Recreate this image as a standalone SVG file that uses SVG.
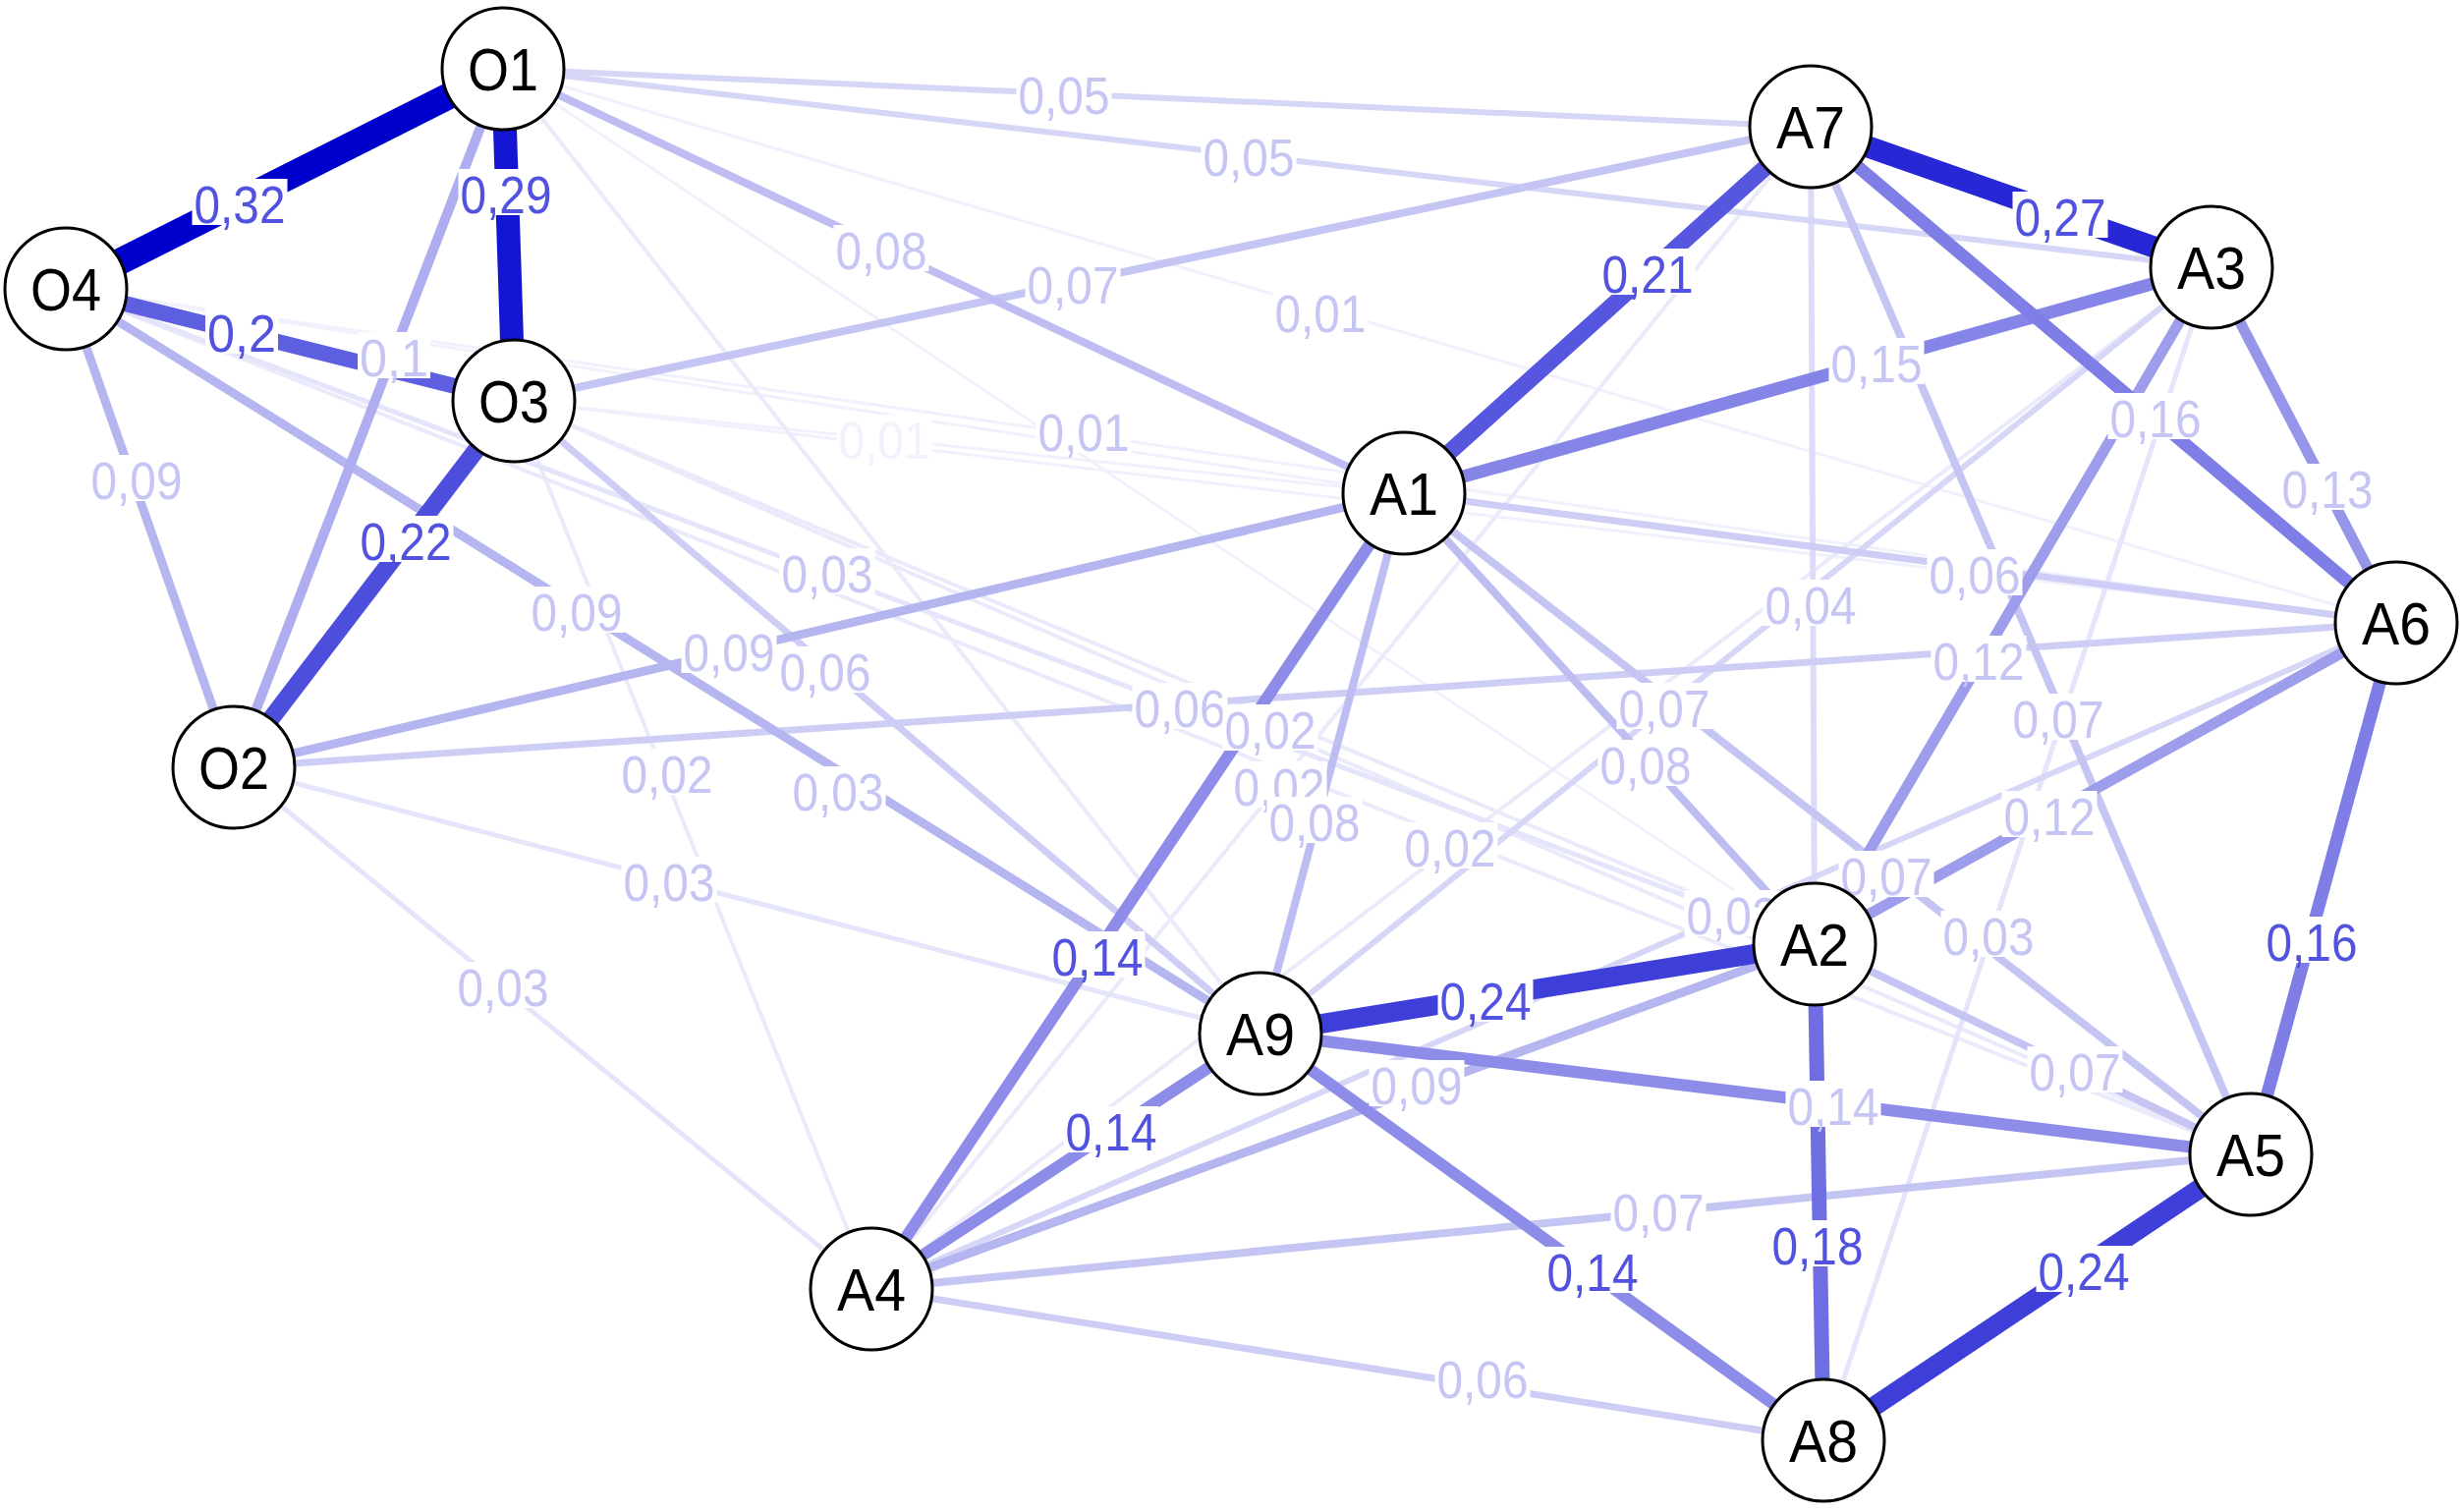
<svg xmlns="http://www.w3.org/2000/svg" width="2508" height="1539" viewBox="0 0 2508 1539">
<style>
line{stroke-linecap:butt}
.w01{stroke:#f1f1fd;stroke-width:3}
.w02{stroke:#eaeafb;stroke-width:4}
.w03{stroke:#e4e4fa;stroke-width:5}
.w04{stroke:#dcdcf8;stroke-width:6}
.w05{stroke:#d6d6f7;stroke-width:6}
.w06{stroke:#cdcdf5;stroke-width:7}
.w07{stroke:#c5c5f4;stroke-width:8}
.w08{stroke:#bdbdf2;stroke-width:8}
.w09{stroke:#b5b5f0;stroke-width:9}
.w10{stroke:#adadef;stroke-width:10}
.w12{stroke:#9d9dec;stroke-width:11}
.w13{stroke:#9595ea;stroke-width:11}
.w14{stroke:#8d8de9;stroke-width:12}
.w15{stroke:#8585e7;stroke-width:13}
.w16{stroke:#7e7ee6;stroke-width:13}
.w18{stroke:#6e6ee2;stroke-width:15}
.w20{stroke:#5e5ee0;stroke-width:16}
.w21{stroke:#5656de;stroke-width:17}
.w22{stroke:#4e4edc;stroke-width:18}
.w24{stroke:#3e3ed9;stroke-width:20}
.w27{stroke:#2727d5;stroke-width:22}
.w29{stroke:#1414d3;stroke-width:24}
.w32{stroke:#0000cc;stroke-width:27}
.lb rect{fill:#ffffff}
.lb text{font-family:"Liberation Sans",Arial,sans-serif;font-size:53px;text-anchor:middle}
.d text{fill:#5252e0}
.l text{fill:#c6c6f4}
.f text{fill:#f2f2fd}
.node circle{fill:#ffffff;stroke:#000000;stroke-width:3}
.node text{font-family:"Liberation Sans",Arial,sans-serif;font-size:62px;text-anchor:middle;fill:#000000}
</style>
<g id="connectors">
<line class="w01" x1="512" y1="70" x2="2439" y2="634"/>
<line class="w01" x1="67" y1="294" x2="2439" y2="634"/>
<line class="w01" x1="523" y1="408" x2="1429" y2="502"/>
<line class="w01" x1="67" y1="294" x2="1429" y2="502"/>
<line class="w01" x1="523" y1="408" x2="2439" y2="634"/>
<line class="w01" x1="512" y1="70" x2="1847" y2="961"/>
<line class="w02" x1="523" y1="408" x2="887" y2="1312"/>
<line class="w02" x1="2251" y1="272" x2="887" y2="1312"/>
<line class="w02" x1="523" y1="408" x2="2291" y2="1175"/>
<line class="w02" x1="1843" y1="129" x2="887" y2="1312"/>
<line class="w02" x1="67" y1="294" x2="2291" y2="1175"/>
<line class="w02" x1="523" y1="408" x2="1847" y2="961"/>
<line class="w02" x1="512" y1="70" x2="1283" y2="1052"/>
<line class="w03" x1="67" y1="294" x2="1847" y2="961"/>
<line class="w03" x1="238" y1="781" x2="1283" y2="1052"/>
<line class="w03" x1="238" y1="781" x2="887" y2="1312"/>
<line class="w03" x1="2251" y1="272" x2="1856" y2="1466"/>
<line class="w04" x1="1843" y1="129" x2="1847" y2="961"/>
<line class="w05" x1="512" y1="70" x2="1843" y2="129"/>
<line class="w05" x1="512" y1="70" x2="2251" y2="272"/>
<line class="w05" x1="2251" y1="272" x2="1283" y2="1052"/>
<line class="w05" x1="2439" y1="634" x2="887" y2="1312"/>
<line class="w06" x1="523" y1="408" x2="1283" y2="1052"/>
<line class="w06" x1="1429" y1="502" x2="2439" y2="634"/>
<line class="w06" x1="238" y1="781" x2="2439" y2="634"/>
<line class="w06" x1="887" y1="1312" x2="1856" y2="1466"/>
<line class="w07" x1="523" y1="408" x2="1843" y2="129"/>
<line class="w07" x1="1429" y1="502" x2="2291" y2="1175"/>
<line class="w07" x1="1843" y1="129" x2="2291" y2="1175"/>
<line class="w07" x1="887" y1="1312" x2="2291" y2="1175"/>
<line class="w07" x1="1847" y1="961" x2="2291" y2="1175"/>
<line class="w08" x1="512" y1="70" x2="1429" y2="502"/>
<line class="w08" x1="1429" y1="502" x2="1283" y2="1052"/>
<line class="w08" x1="1429" y1="502" x2="1847" y2="961"/>
<line class="w09" x1="67" y1="294" x2="238" y2="781"/>
<line class="w09" x1="67" y1="294" x2="1283" y2="1052"/>
<line class="w09" x1="238" y1="781" x2="1429" y2="502"/>
<line class="w09" x1="887" y1="1312" x2="1847" y2="961"/>
<line class="w10" x1="512" y1="70" x2="238" y2="781"/>
<line class="w12" x1="2251" y1="272" x2="1847" y2="961"/>
<line class="w12" x1="2439" y1="634" x2="1847" y2="961"/>
<line class="w13" x1="2251" y1="272" x2="2439" y2="634"/>
<line class="w14" x1="1429" y1="502" x2="887" y2="1312"/>
<line class="w14" x1="1283" y1="1052" x2="887" y2="1312"/>
<line class="w14" x1="1283" y1="1052" x2="2291" y2="1175"/>
<line class="w14" x1="1283" y1="1052" x2="1856" y2="1466"/>
<line class="w15" x1="1429" y1="502" x2="2251" y2="272"/>
<line class="w16" x1="1843" y1="129" x2="2439" y2="634"/>
<line class="w16" x1="2439" y1="634" x2="2291" y2="1175"/>
<line class="w18" x1="1847" y1="961" x2="1856" y2="1466"/>
<line class="w20" x1="67" y1="294" x2="523" y2="408"/>
<line class="w21" x1="1429" y1="502" x2="1843" y2="129"/>
<line class="w22" x1="523" y1="408" x2="238" y2="781"/>
<line class="w24" x1="1283" y1="1052" x2="1847" y2="961"/>
<line class="w24" x1="2291" y1="1175" x2="1856" y2="1466"/>
<line class="w27" x1="1843" y1="129" x2="2251" y2="272"/>
<line class="w29" x1="512" y1="70" x2="523" y2="408"/>
<line class="w32" x1="512" y1="70" x2="67" y2="294"/>
</g>
<g id="edge-labels">
<g class="lb f" transform="translate(900,447)"><rect x="-48.5" y="-25" width="97" height="47"/><text y="20" textLength="93" lengthAdjust="spacingAndGlyphs">0,01</text></g>
<g class="lb l" transform="translate(401,363)"><rect x="-37" y="-25" width="74" height="47"/><text y="20" textLength="70" lengthAdjust="spacingAndGlyphs">0,1</text></g>
<g class="lb l" transform="translate(139,488)"><rect x="-48.5" y="-25" width="97" height="47"/><text y="20" textLength="93" lengthAdjust="spacingAndGlyphs">0,09</text></g>
<g class="lb l" transform="translate(1083,96)"><rect x="-48.5" y="-25" width="97" height="47"/><text y="20" textLength="93" lengthAdjust="spacingAndGlyphs">0,05</text></g>
<g class="lb l" transform="translate(1271,159)"><rect x="-48.5" y="-25" width="97" height="47"/><text y="20" textLength="93" lengthAdjust="spacingAndGlyphs">0,05</text></g>
<g class="lb l" transform="translate(897,254)"><rect x="-48.5" y="-25" width="97" height="47"/><text y="20" textLength="93" lengthAdjust="spacingAndGlyphs">0,08</text></g>
<g class="lb l" transform="translate(1092,289)"><rect x="-48.5" y="-25" width="97" height="47"/><text y="20" textLength="93" lengthAdjust="spacingAndGlyphs">0,07</text></g>
<g class="lb l" transform="translate(1344,318)"><rect x="-48.5" y="-25" width="97" height="47"/><text y="20" textLength="93" lengthAdjust="spacingAndGlyphs">0,01</text></g>
<g class="lb l" transform="translate(1103,439)"><rect x="-48.5" y="-25" width="97" height="47"/><text y="20" textLength="93" lengthAdjust="spacingAndGlyphs">0,01</text></g>
<g class="lb l" transform="translate(1910,369)"><rect x="-48.5" y="-25" width="97" height="47"/><text y="20" textLength="93" lengthAdjust="spacingAndGlyphs">0,15</text></g>
<g class="lb l" transform="translate(2194,425)"><rect x="-48.5" y="-25" width="97" height="47"/><text y="20" textLength="93" lengthAdjust="spacingAndGlyphs">0,16</text></g>
<g class="lb l" transform="translate(2369,497)"><rect x="-48.5" y="-25" width="97" height="47"/><text y="20" textLength="93" lengthAdjust="spacingAndGlyphs">0,13</text></g>
<g class="lb l" transform="translate(2010,584)"><rect x="-48.5" y="-25" width="97" height="47"/><text y="20" textLength="93" lengthAdjust="spacingAndGlyphs">0,06</text></g>
<g class="lb l" transform="translate(1843,615)"><rect x="-48.5" y="-25" width="97" height="47"/><text y="20" textLength="93" lengthAdjust="spacingAndGlyphs">0,04</text></g>
<g class="lb l" transform="translate(2014,672)"><rect x="-48.5" y="-25" width="97" height="47"/><text y="20" textLength="93" lengthAdjust="spacingAndGlyphs">0,12</text></g>
<g class="lb l" transform="translate(1694,720)"><rect x="-48.5" y="-25" width="97" height="47"/><text y="20" textLength="93" lengthAdjust="spacingAndGlyphs">0,07</text></g>
<g class="lb l" transform="translate(1675,778)"><rect x="-48.5" y="-25" width="97" height="47"/><text y="20" textLength="93" lengthAdjust="spacingAndGlyphs">0,08</text></g>
<g class="lb l" transform="translate(2095,731)"><rect x="-48.5" y="-25" width="97" height="47"/><text y="20" textLength="93" lengthAdjust="spacingAndGlyphs">0,07</text></g>
<g class="lb l" transform="translate(2086,830)"><rect x="-48.5" y="-25" width="97" height="47"/><text y="20" textLength="93" lengthAdjust="spacingAndGlyphs">0,12</text></g>
<g class="lb l" transform="translate(1920,891)"><rect x="-48.5" y="-25" width="97" height="47"/><text y="20" textLength="93" lengthAdjust="spacingAndGlyphs">0,07</text></g>
<g class="lb l" transform="translate(2024,952)"><rect x="-48.5" y="-25" width="97" height="47"/><text y="20" textLength="93" lengthAdjust="spacingAndGlyphs">0,03</text></g>
<g class="lb l" transform="translate(1763,931)"><rect x="-48.5" y="-25" width="97" height="47"/><text y="20" textLength="93" lengthAdjust="spacingAndGlyphs">0,02</text></g>
<g class="lb l" transform="translate(2112,1090)"><rect x="-48.5" y="-25" width="97" height="47"/><text y="20" textLength="93" lengthAdjust="spacingAndGlyphs">0,07</text></g>
<g class="lb l" transform="translate(1866,1125)"><rect x="-48.5" y="-25" width="97" height="47"/><text y="20" textLength="93" lengthAdjust="spacingAndGlyphs">0,14</text></g>
<g class="lb l" transform="translate(1688,1233)"><rect x="-48.5" y="-25" width="97" height="47"/><text y="20" textLength="93" lengthAdjust="spacingAndGlyphs">0,07</text></g>
<g class="lb l" transform="translate(587,622)"><rect x="-48.5" y="-25" width="97" height="47"/><text y="20" textLength="93" lengthAdjust="spacingAndGlyphs">0,09</text></g>
<g class="lb l" transform="translate(742,663)"><rect x="-48.5" y="-25" width="97" height="47"/><text y="20" textLength="93" lengthAdjust="spacingAndGlyphs">0,09</text></g>
<g class="lb l" transform="translate(840,683)"><rect x="-48.5" y="-25" width="97" height="47"/><text y="20" textLength="93" lengthAdjust="spacingAndGlyphs">0,06</text></g>
<g class="lb l" transform="translate(842,583)"><rect x="-48.5" y="-25" width="97" height="47"/><text y="20" textLength="93" lengthAdjust="spacingAndGlyphs">0,03</text></g>
<g class="lb l" transform="translate(679,787)"><rect x="-48.5" y="-25" width="97" height="47"/><text y="20" textLength="93" lengthAdjust="spacingAndGlyphs">0,02</text></g>
<g class="lb l" transform="translate(853,805)"><rect x="-48.5" y="-25" width="97" height="47"/><text y="20" textLength="93" lengthAdjust="spacingAndGlyphs">0,03</text></g>
<g class="lb l" transform="translate(681,897)"><rect x="-48.5" y="-25" width="97" height="47"/><text y="20" textLength="93" lengthAdjust="spacingAndGlyphs">0,03</text></g>
<g class="lb l" transform="translate(512,1004)"><rect x="-48.5" y="-25" width="97" height="47"/><text y="20" textLength="93" lengthAdjust="spacingAndGlyphs">0,03</text></g>
<g class="lb l" transform="translate(1201,720)"><rect x="-48.5" y="-25" width="97" height="47"/><text y="20" textLength="93" lengthAdjust="spacingAndGlyphs">0,06</text></g>
<g class="lb l" transform="translate(1293,742)"><rect x="-48.5" y="-25" width="97" height="47"/><text y="20" textLength="93" lengthAdjust="spacingAndGlyphs">0,02</text></g>
<g class="lb l" transform="translate(1302,800)"><rect x="-48.5" y="-25" width="97" height="47"/><text y="20" textLength="93" lengthAdjust="spacingAndGlyphs">0,02</text></g>
<g class="lb l" transform="translate(1338,836)"><rect x="-48.5" y="-25" width="97" height="47"/><text y="20" textLength="93" lengthAdjust="spacingAndGlyphs">0,08</text></g>
<g class="lb l" transform="translate(1476,862)"><rect x="-48.5" y="-25" width="97" height="47"/><text y="20" textLength="93" lengthAdjust="spacingAndGlyphs">0,02</text></g>
<g class="lb l" transform="translate(1442,1104)"><rect x="-48.5" y="-25" width="97" height="47"/><text y="20" textLength="93" lengthAdjust="spacingAndGlyphs">0,09</text></g>
<g class="lb l" transform="translate(1509,1403)"><rect x="-48.5" y="-25" width="97" height="47"/><text y="20" textLength="93" lengthAdjust="spacingAndGlyphs">0,06</text></g>
<g class="lb d" transform="translate(244,207)"><rect x="-48.5" y="-25" width="97" height="47"/><text y="20" textLength="93" lengthAdjust="spacingAndGlyphs">0,32</text></g>
<g class="lb d" transform="translate(515,197)"><rect x="-48.5" y="-25" width="97" height="47"/><text y="20" textLength="93" lengthAdjust="spacingAndGlyphs">0,29</text></g>
<g class="lb d" transform="translate(246,338)"><rect x="-37" y="-25" width="74" height="47"/><text y="20" textLength="70" lengthAdjust="spacingAndGlyphs">0,2</text></g>
<g class="lb d" transform="translate(413,550)"><rect x="-48.5" y="-25" width="97" height="47"/><text y="20" textLength="93" lengthAdjust="spacingAndGlyphs">0,22</text></g>
<g class="lb d" transform="translate(1677,278)"><rect x="-48.5" y="-25" width="97" height="47"/><text y="20" textLength="93" lengthAdjust="spacingAndGlyphs">0,21</text></g>
<g class="lb d" transform="translate(2097,220)"><rect x="-48.5" y="-25" width="97" height="47"/><text y="20" textLength="93" lengthAdjust="spacingAndGlyphs">0,27</text></g>
<g class="lb d" transform="translate(1117,973)"><rect x="-48.5" y="-25" width="97" height="47"/><text y="20" textLength="93" lengthAdjust="spacingAndGlyphs">0,14</text></g>
<g class="lb d" transform="translate(1512,1018)"><rect x="-48.5" y="-25" width="97" height="47"/><text y="20" textLength="93" lengthAdjust="spacingAndGlyphs">0,24</text></g>
<g class="lb d" transform="translate(1131,1151)"><rect x="-48.5" y="-25" width="97" height="47"/><text y="20" textLength="93" lengthAdjust="spacingAndGlyphs">0,14</text></g>
<g class="lb d" transform="translate(1621,1294)"><rect x="-48.5" y="-25" width="97" height="47"/><text y="20" textLength="93" lengthAdjust="spacingAndGlyphs">0,14</text></g>
<g class="lb d" transform="translate(1850,1267)"><rect x="-48.5" y="-25" width="97" height="47"/><text y="20" textLength="93" lengthAdjust="spacingAndGlyphs">0,18</text></g>
<g class="lb d" transform="translate(2121,1293)"><rect x="-48.5" y="-25" width="97" height="47"/><text y="20" textLength="93" lengthAdjust="spacingAndGlyphs">0,24</text></g>
<g class="lb d" transform="translate(2353,958)"><rect x="-48.5" y="-25" width="97" height="47"/><text y="20" textLength="93" lengthAdjust="spacingAndGlyphs">0,16</text></g>
</g>
<g id="node-O1" class="node"><circle cx="512" cy="70" r="62"/><text x="512" y="92" textLength="72" lengthAdjust="spacingAndGlyphs">O1</text></g>
<g id="node-O4" class="node"><circle cx="67" cy="294" r="62"/><text x="67" y="316" textLength="72" lengthAdjust="spacingAndGlyphs">O4</text></g>
<g id="node-O3" class="node"><circle cx="523" cy="408" r="62"/><text x="523" y="430" textLength="72" lengthAdjust="spacingAndGlyphs">O3</text></g>
<g id="node-O2" class="node"><circle cx="238" cy="781" r="62"/><text x="238" y="803" textLength="72" lengthAdjust="spacingAndGlyphs">O2</text></g>
<g id="node-A7" class="node"><circle cx="1843" cy="129" r="62"/><text x="1843" y="151" textLength="70" lengthAdjust="spacingAndGlyphs">A7</text></g>
<g id="node-A3" class="node"><circle cx="2251" cy="272" r="62"/><text x="2251" y="294" textLength="70" lengthAdjust="spacingAndGlyphs">A3</text></g>
<g id="node-A1" class="node"><circle cx="1429" cy="502" r="62"/><text x="1429" y="524" textLength="70" lengthAdjust="spacingAndGlyphs">A1</text></g>
<g id="node-A6" class="node"><circle cx="2439" cy="634" r="62"/><text x="2439" y="656" textLength="70" lengthAdjust="spacingAndGlyphs">A6</text></g>
<g id="node-A9" class="node"><circle cx="1283" cy="1052" r="62"/><text x="1283" y="1074" textLength="70" lengthAdjust="spacingAndGlyphs">A9</text></g>
<g id="node-A2" class="node"><circle cx="1847" cy="961" r="62"/><text x="1847" y="983" textLength="70" lengthAdjust="spacingAndGlyphs">A2</text></g>
<g id="node-A5" class="node"><circle cx="2291" cy="1175" r="62"/><text x="2291" y="1197" textLength="70" lengthAdjust="spacingAndGlyphs">A5</text></g>
<g id="node-A4" class="node"><circle cx="887" cy="1312" r="62"/><text x="887" y="1334" textLength="70" lengthAdjust="spacingAndGlyphs">A4</text></g>
<g id="node-A8" class="node"><circle cx="1856" cy="1466" r="62"/><text x="1856" y="1488" textLength="70" lengthAdjust="spacingAndGlyphs">A8</text></g>
</svg>
